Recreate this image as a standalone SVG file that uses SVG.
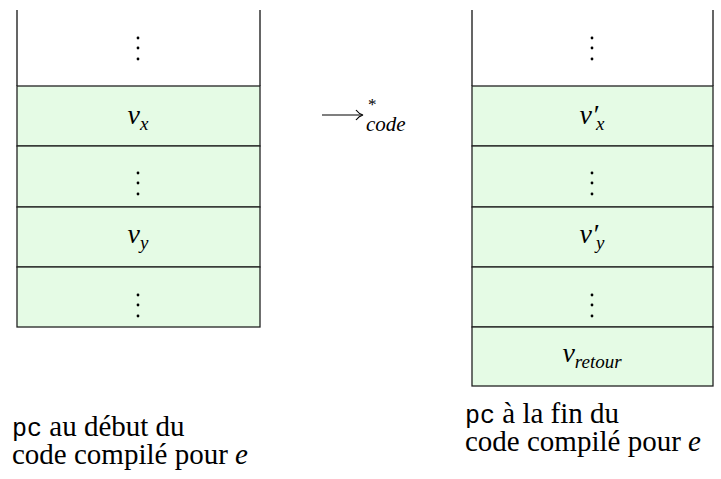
<svg xmlns="http://www.w3.org/2000/svg" width="721" height="479" viewBox="0 0 721 479">
<style>
.cell{fill:#e5fbe5;stroke:#222;stroke-width:1.3}
.side{fill:none;stroke:#333;stroke-width:1.5}
.dot{fill:#000}
text{font-family:'Liberation Serif','Times New Roman',Times,serif;fill:#000}
.m{font-style:italic;font-size:28px}
.s{font-size:19px}
.tt{font-family:'Liberation Mono','Courier New',monospace;font-size:25px}
.cap{font-size:29px}
</style>
<defs>
<g id="vdots"><circle cx="0" cy="-10" r="1.4" class="dot"/><circle cx="0" cy="0" r="1.4" class="dot"/><circle cx="0" cy="11" r="1.4" class="dot"/></g>
</defs>
<g id="left-stack">
<g id="l-top"><path class="side" d="M17,10 V86 M260,10 V86"/><use href="#vdots" x="138" y="48"/></g>
<g id="l-vx"><rect class="cell" x="17" y="86" width="243" height="60"/><text class="m" x="138" y="124" text-anchor="middle">v<tspan class="s" dy="6">x</tspan></text></g>
<g id="l-dots1"><rect class="cell" x="17" y="146" width="243" height="61"/><use href="#vdots" x="138" y="183"/></g>
<g id="l-vy"><rect class="cell" x="17" y="207" width="243" height="60"/><text class="m" x="138" y="243" text-anchor="middle">v<tspan class="s" dy="6">y</tspan></text></g>
<g id="l-dots2"><rect class="cell" x="17" y="267" width="243" height="60"/><use href="#vdots" x="138" y="305"/></g>
</g>
<g id="right-stack">
<g id="r-top"><path class="side" d="M472,10 V86 M713,10 V86"/><use href="#vdots" x="592" y="48"/></g>
<g id="r-vx"><rect class="cell" x="472" y="86" width="241" height="60"/><text class="m" x="592" y="124" text-anchor="middle">v′<tspan class="s" dx="-2" dy="6">x</tspan></text></g>
<g id="r-dots1"><rect class="cell" x="472" y="146" width="241" height="61"/><use href="#vdots" x="592" y="183"/></g>
<g id="r-vy"><rect class="cell" x="472" y="207" width="241" height="60"/><text class="m" x="592" y="243" text-anchor="middle">v′<tspan class="s" dx="-2" dy="6">y</tspan></text></g>
<g id="r-dots2"><rect class="cell" x="472" y="267" width="241" height="60"/><use href="#vdots" x="592" y="305"/></g>
<g id="r-ret"><rect class="cell" x="472" y="327" width="241" height="59"/><text class="m" x="592" y="362" text-anchor="middle">v<tspan class="s" dy="6">retour</tspan></text></g>
</g>
<g id="connectors">
<path d="M322,115 H362" stroke="#000" stroke-width="1.2" fill="none"/>
<path d="M356,110 Q359,114 363,115 Q359,116 356,120" stroke="#000" stroke-width="1.2" fill="none"/>
<text font-size="17" x="368" y="110">*</text>
<text font-style="italic" font-size="21" x="366" y="131">code</text>
</g>
<g id="captions">
<text class="cap" x="12" y="436"><tspan class="tt">pc</tspan> au début du</text>
<text class="cap" x="12" y="464">code compilé pour <tspan font-style="italic">e</tspan></text>
<text class="cap" x="465" y="423"><tspan class="tt">pc</tspan> à la fin du</text>
<text class="cap" x="465" y="451">code compilé pour <tspan font-style="italic">e</tspan></text>
</g>
</svg>
